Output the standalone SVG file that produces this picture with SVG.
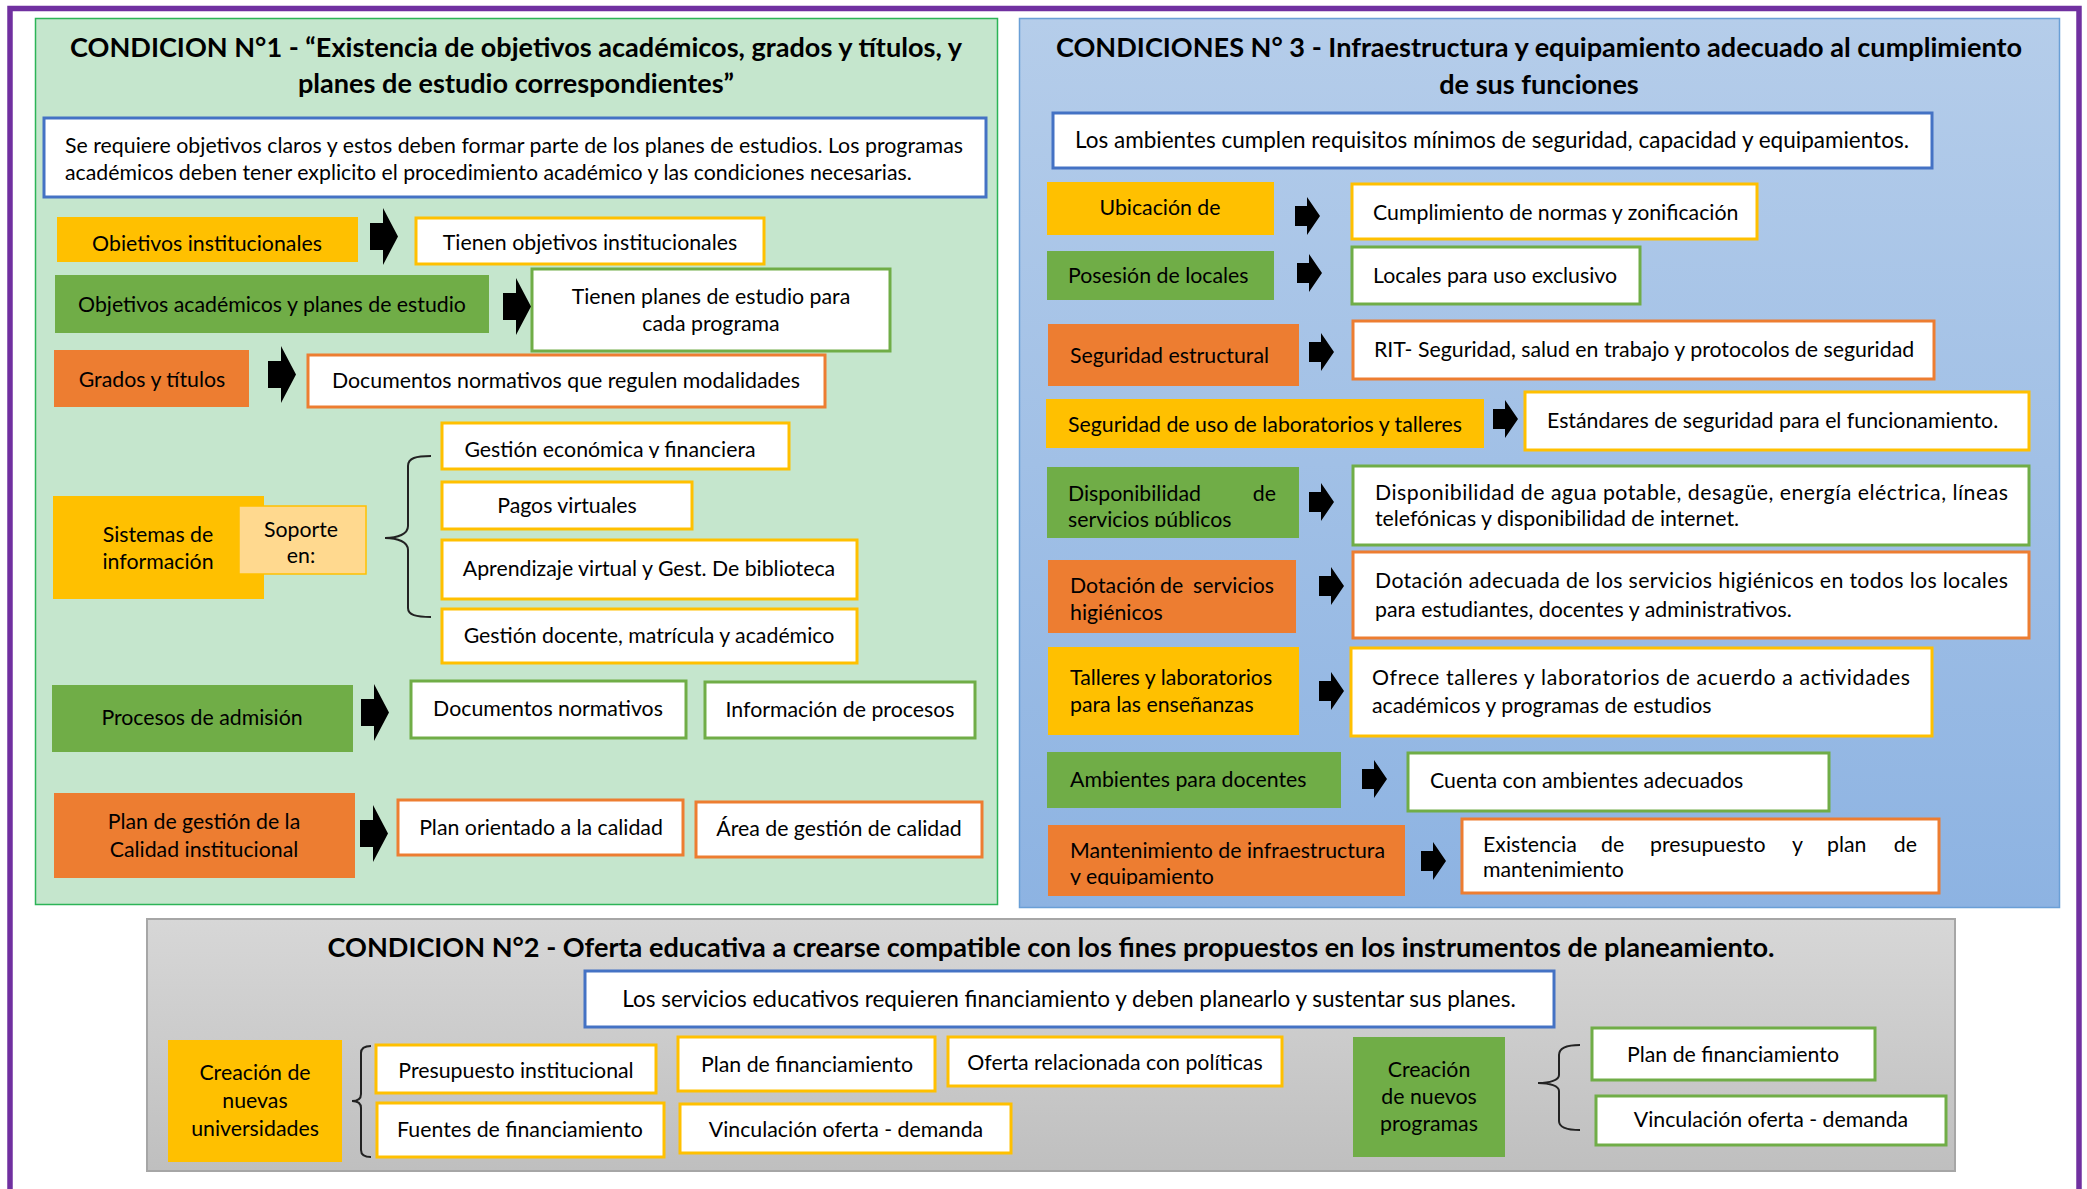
<svg xmlns="http://www.w3.org/2000/svg" width="2087" height="1189" viewBox="0 0 2087 1189">
  <style>
    .t { font-family: Lato, "Liberation Sans", sans-serif; font-size: 21.3px; fill: #000; }
    .big { font-size: 22.5px; }
    .c { text-anchor: middle; }
    .e { text-anchor: end; }
    .h { font-family: Lato, "Liberation Sans", sans-serif; font-weight: bold; font-size: 27.1px; fill: #000; text-anchor: middle; }
    .yel { fill: #ffc000; }
    .grn { fill: #70ad47; }
    .org { fill: #ed7d31; }
    .by { fill: #fff; stroke: #ffc000; stroke-width: 3; }
    .bg { fill: #fff; stroke: #70ad47; stroke-width: 3; }
    .bo { fill: #fff; stroke: #ed7d31; stroke-width: 3; }
    .bb { fill: #fff; stroke: #4472c4; stroke-width: 3; }
    .brace { fill: none; stroke: #222; stroke-width: 2; }
  </style>
  <defs>
    <linearGradient id="blueFill" x1="0" y1="0" x2="0" y2="1">
      <stop offset="0" stop-color="#b5cdea"/>
      <stop offset="1" stop-color="#8db3e2"/>
    </linearGradient>
    <linearGradient id="grayFill" x1="0" y1="0" x2="0" y2="1">
      <stop offset="0" stop-color="#d7d7d7"/>
      <stop offset="1" stop-color="#bfbfbf"/>
    </linearGradient>
    <path id="arrowL" d="M0,15 H13 V0 L28,28.5 L13,57 V42 H0 Z" fill="#000"/>
    <path id="arrowS" d="M0,9 H12 V0 L25,19 L12,38 V29 H0 Z" fill="#000"/>
    <clipPath id="clipObjInst"><rect x="57" y="217" width="301" height="34"/></clipPath>
    <clipPath id="clipGestEcon"><rect x="442" y="423" width="347" height="35"/></clipPath>
    <clipPath id="clipDispServ"><rect x="1047" y="467" width="252" height="60"/></clipPath>
    <clipPath id="clipMant"><rect x="1048" y="825" width="357" height="60"/></clipPath>
  </defs>

  <!-- outer frame -->
  <rect x="10" y="8.5" width="2069" height="1250" fill="none" stroke="#7030a0" stroke-width="5.5"/>

  <!-- ===== Condición 1 ===== -->
  <g id="cond1-panel">
    <rect x="35.5" y="18.5" width="962" height="886" fill="#c5e6cd" stroke="#2cb457" stroke-width="1.5"/>
    <text class="h" x="516" y="57">CONDICION N°1 - “Existencia de objetivos académicos, grados y títulos, y</text>
    <text class="h" x="516" y="93">planes de estudio correspondientes”</text>
  </g>
  <g id="cond1-intro">
    <rect class="bb" x="44" y="118" width="942" height="79"/>
    <text class="t" x="65" y="153" textLength="898" lengthAdjust="spacing">Se requiere objetivos claros y estos deben formar parte de los planes de estudios. Los programas</text>
    <text class="t" x="65" y="180">académicos deben tener explicito el procedimiento académico y las condiciones necesarias.</text>
  </g>
  <g id="obj-institucionales">
    <rect class="yel" x="57" y="217" width="301" height="45"/>
    <text class="t c" x="207" y="251" clip-path="url(#clipObjInst)">Objetivos institucionales</text>
  </g>
  <g id="tienen-objetivos">
    <rect class="by" x="416" y="218" width="348" height="46"/>
    <text class="t c" x="590" y="250">Tienen objetivos institucionales</text>
  </g>
  <g id="obj-academicos">
    <rect class="grn" x="55" y="275" width="434" height="58"/>
    <text class="t c" x="272" y="312">Objetivos académicos y planes de estudio</text>
  </g>
  <g id="tienen-planes">
    <rect class="bg" x="532" y="269" width="358" height="82"/>
    <text class="t c" x="711" y="304">Tienen planes de estudio para</text>
    <text class="t c" x="711" y="331">cada programa</text>
  </g>
  <g id="grados-titulos">
    <rect class="org" x="54" y="350" width="195" height="57"/>
    <text class="t c" x="152" y="387">Grados y títulos</text>
  </g>
  <g id="docs-modalidades">
    <rect class="bo" x="308" y="355" width="517" height="52"/>
    <text class="t c" x="566" y="388">Documentos normativos que regulen modalidades</text>
  </g>
  <g id="sistemas-info">
    <rect class="yel" x="53" y="496" width="211" height="103"/>
    <text class="t c" x="158" y="542">Sistemas de</text>
    <text class="t c" x="158" y="569">información</text>
  </g>
  <g id="soporte">
    <rect x="239" y="506" width="127" height="68" fill="#ffd98f" stroke="#ffc000" stroke-width="1.5"/>
    <text class="t c" x="301" y="537">Soporte</text>
    <text class="t c" x="301" y="563">en:</text>
  </g>
  <g id="gestion-economica">
    <rect class="by" x="442" y="423" width="347" height="46"/>
    <text class="t c" x="610" y="457" clip-path="url(#clipGestEcon)">Gestión económica y financiera</text>
  </g>
  <g id="pagos-virtuales">
    <rect class="by" x="442" y="482" width="250" height="47"/>
    <text class="t c" x="567" y="513">Pagos virtuales</text>
  </g>
  <g id="aprendizaje-virtual">
    <rect class="by" x="442" y="540" width="415" height="59"/>
    <text class="t c" x="649" y="576">Aprendizaje virtual y Gest. De biblioteca</text>
  </g>
  <g id="gestion-docente">
    <rect class="by" x="442" y="609" width="415" height="54"/>
    <text class="t c" x="649" y="643">Gestión docente, matrícula y académico</text>
  </g>
  <g id="procesos-admision">
    <rect class="grn" x="52" y="685" width="301" height="67"/>
    <text class="t c" x="202" y="725">Procesos de admisión</text>
  </g>
  <g id="documentos-normativos">
    <rect class="bg" x="411" y="681" width="275" height="57"/>
    <text class="t c" x="548" y="716">Documentos normativos</text>
  </g>
  <g id="informacion-procesos">
    <rect class="bg" x="705" y="682" width="270" height="56"/>
    <text class="t c" x="840" y="717">Información de procesos</text>
  </g>
  <g id="plan-gestion-calidad">
    <rect class="org" x="54" y="793" width="301" height="85"/>
    <text class="t c" x="204" y="829">Plan de gestión de la</text>
    <text class="t c" x="204" y="857">Calidad institucional</text>
  </g>
  <g id="plan-orientado">
    <rect class="bo" x="398" y="800" width="285" height="55"/>
    <text class="t c" x="541" y="835">Plan orientado a la calidad</text>
  </g>
  <g id="area-gestion">
    <rect class="bo" x="696" y="802" width="286" height="55"/>
    <text class="t c" x="839" y="836">Área de gestión de calidad</text>
  </g>

  <!-- ===== Condición 3 ===== -->
  <g id="cond3-panel">
    <rect x="1019.5" y="18.5" width="1040" height="889" fill="url(#blueFill)" stroke="#6a9fd6" stroke-width="1.5"/>
    <text class="h" x="1539" y="57">CONDICIONES N° 3 - Infraestructura y equipamiento adecuado al cumplimiento</text>
    <text class="h" x="1539" y="94">de sus funciones</text>
  </g>
  <g id="cond3-intro">
    <rect class="bb" x="1053" y="113" width="879" height="55"/>
    <text class="t big c" x="1492" y="148">Los ambientes cumplen requisitos mínimos de seguridad, capacidad y equipamientos.</text>
  </g>
  <g id="ubicacion">
    <rect class="yel" x="1047" y="182" width="227" height="53"/>
    <text class="t c" x="1160" y="215">Ubicación de</text>
  </g>
  <g id="cumplimiento-normas">
    <rect class="by" x="1352" y="184" width="405" height="55"/>
    <text class="t" x="1373" y="220">Cumplimiento de normas y zonificación</text>
  </g>
  <g id="posesion-locales">
    <rect class="grn" x="1047" y="251" width="227" height="49"/>
    <text class="t" x="1068" y="283">Posesión de locales</text>
  </g>
  <g id="locales-exclusivo">
    <rect class="bg" x="1352" y="247" width="288" height="57"/>
    <text class="t" x="1373" y="283">Locales para uso exclusivo</text>
  </g>
  <g id="seguridad-estructural">
    <rect class="org" x="1048" y="324" width="251" height="62"/>
    <text class="t" x="1070" y="363">Seguridad estructural</text>
  </g>
  <g id="rit-seguridad">
    <rect class="bo" x="1353" y="321" width="581" height="58"/>
    <text class="t" x="1374" y="357">RIT- Seguridad, salud en trabajo y protocolos de seguridad</text>
  </g>
  <g id="seguridad-uso">
    <rect class="yel" x="1046" y="399" width="438" height="49"/>
    <text class="t" x="1068" y="432">Seguridad de uso de laboratorios y talleres</text>
  </g>
  <g id="estandares">
    <rect class="by" x="1525" y="392" width="504" height="58"/>
    <text class="t" x="1547" y="428">Estándares de seguridad para el funcionamiento.</text>
  </g>
  <g id="servicios-publicos">
    <rect class="grn" x="1047" y="467" width="252" height="71"/>
    <g clip-path="url(#clipDispServ)">
      <text class="t" x="1068" y="501">Disponibilidad</text>
      <text class="t e" x="1276" y="501">de</text>
      <text class="t" x="1068" y="527">servicios públicos</text>
    </g>
  </g>
  <g id="servicios-publicos-desc">
    <rect class="bg" x="1353" y="466" width="676" height="79"/>
    <text class="t" x="1375" y="500" textLength="633" lengthAdjust="spacing">Disponibilidad de agua potable, desagüe, energía eléctrica, líneas</text>
    <text class="t" x="1375" y="526">telefónicas y disponibilidad de internet.</text>
  </g>
  <g id="servicios-higienicos">
    <rect class="org" x="1048" y="560" width="248" height="73"/>
    <text class="t" x="1070" y="593">Dotación</text>
    <text class="t" x="1160" y="593">de</text>
    <text class="t e" x="1274" y="593">servicios</text>
    <text class="t" x="1070" y="620">higiénicos</text>
  </g>
  <g id="servicios-higienicos-desc">
    <rect class="bo" x="1353" y="552" width="676" height="86"/>
    <text class="t" x="1375" y="588" textLength="633" lengthAdjust="spacing">Dotación adecuada de los servicios higiénicos en todos los locales</text>
    <text class="t" x="1375" y="617">para estudiantes, docentes y administrativos.</text>
  </g>
  <g id="talleres-laboratorios">
    <rect class="yel" x="1048" y="647" width="251" height="88"/>
    <text class="t" x="1070" y="685">Talleres y laboratorios</text>
    <text class="t" x="1070" y="712">para las enseñanzas</text>
  </g>
  <g id="talleres-laboratorios-desc">
    <rect class="by" x="1351" y="648" width="581" height="88"/>
    <text class="t" x="1372" y="685" textLength="538" lengthAdjust="spacing">Ofrece talleres y laboratorios de acuerdo a actividades</text>
    <text class="t" x="1372" y="713">académicos y programas de estudios</text>
  </g>
  <g id="ambientes-docentes">
    <rect class="grn" x="1047" y="752" width="294" height="56"/>
    <text class="t" x="1070" y="787">Ambientes para docentes</text>
  </g>
  <g id="ambientes-adecuados">
    <rect class="bg" x="1408" y="753" width="421" height="58"/>
    <text class="t" x="1430" y="788">Cuenta con ambientes adecuados</text>
  </g>
  <g id="mantenimiento">
    <rect class="org" x="1048" y="825" width="357" height="71"/>
    <g clip-path="url(#clipMant)">
      <text class="t" x="1070" y="858">Mantenimiento de infraestructura</text>
      <text class="t" x="1070" y="884">y equipamiento</text>
    </g>
  </g>
  <g id="mantenimiento-desc">
    <rect class="bo" x="1462" y="819" width="477" height="74"/>
    <text class="t" x="1483" y="852">Existencia</text>
    <text class="t" x="1601" y="852">de</text>
    <text class="t" x="1650" y="852">presupuesto</text>
    <text class="t" x="1792" y="852">y</text>
    <text class="t" x="1827" y="852">plan</text>
    <text class="t e" x="1917" y="852">de</text>
    <text class="t" x="1483" y="877">mantenimiento</text>
  </g>

  <!-- ===== Condición 2 ===== -->
  <g id="cond2-panel">
    <rect x="147" y="919" width="1808" height="252" fill="url(#grayFill)" stroke="#a6a6a6" stroke-width="2"/>
    <text class="h" x="1051" y="957">CONDICION N°2 - Oferta educativa a crearse compatible con los fines propuestos en los instrumentos de planeamiento.</text>
  </g>
  <g id="cond2-intro">
    <rect class="bb" x="585" y="971" width="969" height="56"/>
    <text class="t big c" x="1069" y="1007">Los servicios educativos requieren financiamiento y deben planearlo y sustentar sus planes.</text>
  </g>
  <g id="nuevas-universidades">
    <rect class="yel" x="168" y="1040" width="174" height="122"/>
    <text class="t c" x="255" y="1080">Creación de</text>
    <text class="t c" x="255" y="1108">nuevas</text>
    <text class="t c" x="255" y="1136">universidades</text>
  </g>
  <g id="presupuesto">
    <rect class="by" x="376" y="1045" width="280" height="48"/>
    <text class="t c" x="516" y="1078">Presupuesto institucional</text>
  </g>
  <g id="fuentes">
    <rect class="by" x="377" y="1103" width="287" height="54"/>
    <text class="t c" x="520" y="1137">Fuentes de financiamiento</text>
  </g>
  <g id="plan-financiamiento-u">
    <rect class="by" x="678" y="1037" width="257" height="54"/>
    <text class="t c" x="807" y="1072">Plan de financiamiento</text>
  </g>
  <g id="vinculacion-u">
    <rect class="by" x="680" y="1104" width="331" height="49"/>
    <text class="t c" x="846" y="1137">Vinculación oferta - demanda</text>
  </g>
  <g id="oferta-politicas">
    <rect class="by" x="948" y="1037" width="334" height="49"/>
    <text class="t c" x="1115" y="1070">Oferta relacionada con políticas</text>
  </g>
  <g id="nuevos-programas">
    <rect class="grn" x="1353" y="1037" width="152" height="120"/>
    <text class="t c" x="1429" y="1077">Creación</text>
    <text class="t c" x="1429" y="1104">de nuevos</text>
    <text class="t c" x="1429" y="1131">programas</text>
  </g>
  <g id="plan-financiamiento-p">
    <rect class="bg" x="1592" y="1028" width="283" height="52"/>
    <text class="t c" x="1733" y="1062">Plan de financiamiento</text>
  </g>
  <g id="vinculacion-p">
    <rect class="bg" x="1596" y="1096" width="350" height="49"/>
    <text class="t c" x="1771" y="1127">Vinculación oferta - demanda</text>
  </g>

  <!-- ===== connectors: block arrows and braces ===== -->
  <g id="connectors">
    <use href="#arrowL" x="370" y="208"/>
    <use href="#arrowL" x="503" y="278"/>
    <use href="#arrowL" x="268" y="346"/>
    <use href="#arrowL" x="361" y="684"/>
    <use href="#arrowL" x="360" y="805"/>

    <use href="#arrowS" x="1295" y="197"/>
    <use href="#arrowS" x="1297" y="254"/>
    <use href="#arrowS" x="1309" y="333"/>
    <use href="#arrowS" x="1493" y="400"/>
    <use href="#arrowS" x="1309" y="483"/>
    <use href="#arrowS" x="1319" y="567"/>
    <use href="#arrowS" x="1319" y="672"/>
    <use href="#arrowS" x="1362" y="760"/>
    <use href="#arrowS" x="1421" y="842"/>

    <path class="brace" d="M431,456 C416,456 408,458 408,466 V526 C408,534 398,538 385,538 C398,538 408,542 408,550 V608 C408,615 416,617 431,617"/>
    <path class="brace" stroke-width="3" stroke="#000" d="M371,1046 C364,1046 361,1048 361,1053 V1094 C361,1099 357,1101 352,1101 C357,1101 361,1103 361,1108 V1150 C361,1155 364,1157 371,1157"/>
    <path class="brace" stroke="#000" d="M1580,1045 C1566,1045 1559,1048 1559,1055 V1075 C1559,1080 1550,1083 1538,1083 C1550,1083 1559,1086 1559,1091 V1121 C1559,1127 1566,1130 1580,1130"/>
  </g>
</svg>
